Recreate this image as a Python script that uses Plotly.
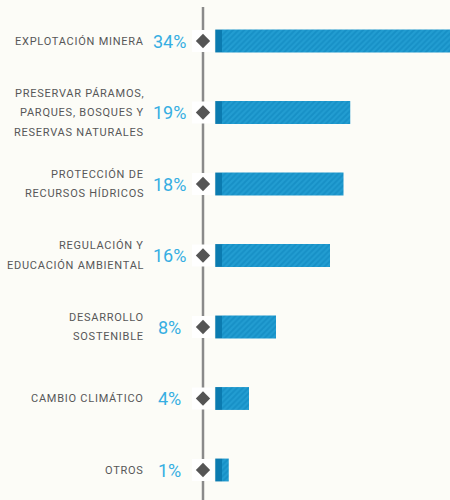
import plotly.graph_objects as go

categories = [
    "EXPLOTACIÓN MINERA",
    "PRESERVAR PÁRAMOS,<br>PARQUES, BOSQUES Y<br>RESERVAS NATURALES",
    "PROTECCIÓN DE<br>RECURSOS HÍDRICOS",
    "REGULACIÓN Y<br>EDUCACIÓN AMBIENTAL",
    "DESARROLLO<br>SOSTENIBLE",
    "CAMBIO CLIMÁTICO",
    "OTROS",
]
values = [34, 19, 18, 16, 8, 4, 1]
pct_labels = ["34%", "19%", "18%", "16%", "8%", "4%", "1%"]

W, H = 450, 500
BG = "#fcfcf7"
ZERO_PX = 222.0
PX_PER_UNIT = 6.75
x_range = [-ZERO_PX / PX_PER_UNIT, (W - ZERO_PX) / PX_PER_UNIT]
ROW_PX = 71.5
FIRST_PX = 41.0
n_cat = len(categories)
y_range = [n_cat - 1 + (H - (FIRST_PX + ROW_PX * (n_cat - 1))) / ROW_PX,
           -FIRST_PX / ROW_PX]

idx = list(range(n_cat))
line_x = (203.0 - ZERO_PX) / PX_PER_UNIT
cap_w = 1.0

fig = go.Figure()

# gap boxes around diamonds
fig.add_trace(go.Scatter(
    x=[line_x] * n_cat, y=idx, mode="markers",
    marker=dict(symbol="square", size=22, color="#ffffff", line=dict(width=0)),
    hoverinfo="skip", showlegend=False, cliponaxis=False))
fig.add_trace(go.Scatter(
    x=[line_x] * n_cat, y=idx, mode="markers",
    marker=dict(symbol="diamond", size=11, color="#555555", line=dict(width=0)),
    hoverinfo="skip", showlegend=False, cliponaxis=False))

# hatched bars
fig.add_trace(go.Bar(
    x=values, y=idx, base=0, orientation="h", width=0.32,
    marker=dict(color="#1790c6", line=dict(width=0),
                pattern=dict(shape="/", fgcolor="#2eaadd", fillmode="overlay",
                             size=4, solidity=0.5)),
    hoverinfo="skip", showlegend=False))
# dark caps
fig.add_trace(go.Bar(
    x=[cap_w] * n_cat, y=idx, base=-cap_w, orientation="h", width=0.32,
    marker=dict(color="#0b7bb0", line=dict(width=0)),
    hoverinfo="skip", showlegend=False))

annotations = []
line_gap = 19.5 / ROW_PX
for i, (lab, pct) in enumerate(zip(categories, pct_labels)):
    lines = lab.split("<br>")
    n = len(lines)
    for j, ln in enumerate(lines):
        yy = i + (j - (n - 1) / 2) * line_gap
        annotations.append(dict(
            x=146 / W, xref="paper", y=yy, yref="y",
            text='<span style="letter-spacing:0.75px">' + ln + "</span>",
            showarrow=False, xanchor="right", yanchor="middle",
            font=dict(family="Roboto", size=11, color="#575757")))
    annotations.append(dict(
        x=169 / W, xref="paper", y=i, yref="y", text=pct, showarrow=False,
        xanchor="center", yanchor="middle",
        font=dict(family="Roboto", size=18, color="#36aee2")))

fig.update_layout(
    width=W, height=H, margin=dict(l=0, r=0, t=0, b=0),
    paper_bgcolor=BG, plot_bgcolor=BG, barmode="overlay",
    xaxis=dict(range=x_range, visible=False, fixedrange=True),
    yaxis=dict(range=y_range, visible=False, fixedrange=True),
    annotations=annotations,
    shapes=[dict(type="line", xref="x", yref="paper", x0=line_x, x1=line_x,
                 y0=0, y1=1 - 7 / H, line=dict(color="#8a8a8a", width=2.5),
                 layer="below")],
)

fig.write_html("out.html", config={"displayModeBar": False},
               post_script="document.body.style.margin='0';document.body.style.overflow='hidden';document.body.style.background='" + BG + "';")
